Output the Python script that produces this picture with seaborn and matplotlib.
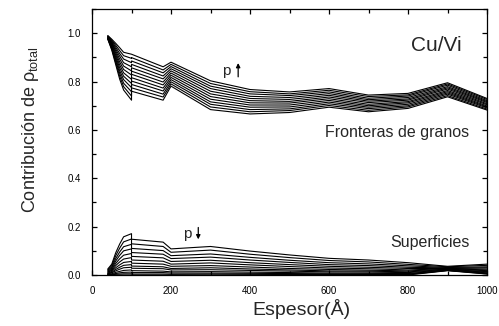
import numpy as np
import pandas as pd
import matplotlib
matplotlib.use("Agg")
import matplotlib.pyplot as plt
import seaborn as sns
from matplotlib.ticker import MultipleLocator

OUTPUT_FILE = "out.png"

# thickness points (100 appears twice: the curves jump there)
espesor = [40, 50, 60, 70, 80, 100, 100, 180, 200, 300, 400, 500, 600, 700, 800, 900, 1000]

# grain boundary contribution, lowest p (bottom curve) to highest p (top curve)
fronteras = [
    [0.975, 0.930, 0.870, 0.810, 0.765, 0.723, 0.760, 0.723, 0.781, 0.684, 0.666, 0.672, 0.694, 0.675, 0.689, 0.737, 0.682],
    [0.976, 0.934, 0.878, 0.822, 0.779, 0.740, 0.774, 0.736, 0.790, 0.695, 0.675, 0.680, 0.701, 0.681, 0.695, 0.742, 0.686],
    [0.978, 0.938, 0.886, 0.834, 0.793, 0.758, 0.788, 0.748, 0.799, 0.706, 0.684, 0.687, 0.708, 0.688, 0.700, 0.748, 0.691],
    [0.979, 0.942, 0.894, 0.845, 0.808, 0.775, 0.802, 0.761, 0.808, 0.716, 0.694, 0.695, 0.715, 0.694, 0.706, 0.753, 0.695],
    [0.980, 0.946, 0.902, 0.857, 0.822, 0.792, 0.816, 0.773, 0.817, 0.727, 0.703, 0.703, 0.722, 0.700, 0.712, 0.758, 0.699],
    [0.982, 0.950, 0.910, 0.869, 0.836, 0.809, 0.830, 0.786, 0.826, 0.738, 0.712, 0.711, 0.729, 0.706, 0.717, 0.763, 0.704],
    [0.983, 0.955, 0.918, 0.881, 0.850, 0.827, 0.843, 0.798, 0.835, 0.749, 0.721, 0.718, 0.736, 0.713, 0.723, 0.769, 0.708],
    [0.985, 0.959, 0.926, 0.893, 0.864, 0.844, 0.857, 0.811, 0.844, 0.760, 0.730, 0.726, 0.743, 0.719, 0.728, 0.774, 0.713],
    [0.986, 0.963, 0.934, 0.905, 0.878, 0.861, 0.871, 0.823, 0.853, 0.771, 0.739, 0.734, 0.750, 0.725, 0.734, 0.779, 0.717],
    [0.987, 0.967, 0.942, 0.916, 0.893, 0.878, 0.885, 0.836, 0.862, 0.781, 0.749, 0.742, 0.757, 0.731, 0.740, 0.785, 0.721],
    [0.989, 0.971, 0.950, 0.928, 0.907, 0.896, 0.899, 0.848, 0.871, 0.792, 0.758, 0.749, 0.764, 0.738, 0.745, 0.790, 0.726],
    [0.990, 0.975, 0.958, 0.940, 0.921, 0.913, 0.913, 0.861, 0.880, 0.803, 0.767, 0.757, 0.771, 0.744, 0.751, 0.795, 0.730],
]

# surface contribution, lowest p (top curve) to highest p (bottom curve)
superficies = [
    [0.025, 0.045, 0.092, 0.128, 0.158, 0.171, 0.148, 0.136, 0.108, 0.118, 0.099, 0.083, 0.069, 0.062, 0.051, 0.036, 0.045],
    [0.022, 0.039, 0.080, 0.111, 0.137, 0.149, 0.129, 0.118, 0.094, 0.103, 0.086, 0.072, 0.060, 0.054, 0.044, 0.034, 0.040],
    [0.019, 0.033, 0.068, 0.095, 0.117, 0.127, 0.110, 0.101, 0.080, 0.087, 0.073, 0.061, 0.051, 0.046, 0.038, 0.031, 0.034],
    [0.016, 0.028, 0.058, 0.081, 0.100, 0.108, 0.093, 0.086, 0.068, 0.074, 0.062, 0.052, 0.043, 0.039, 0.032, 0.029, 0.030],
    [0.013, 0.023, 0.048, 0.067, 0.082, 0.089, 0.077, 0.071, 0.056, 0.061, 0.051, 0.043, 0.036, 0.032, 0.027, 0.027, 0.025],
    [0.011, 0.019, 0.039, 0.054, 0.066, 0.072, 0.062, 0.057, 0.045, 0.050, 0.042, 0.035, 0.029, 0.026, 0.021, 0.026, 0.021],
    [0.008, 0.015, 0.030, 0.042, 0.052, 0.056, 0.049, 0.045, 0.036, 0.039, 0.033, 0.027, 0.023, 0.020, 0.017, 0.024, 0.018],
    [0.006, 0.011, 0.023, 0.032, 0.040, 0.043, 0.037, 0.034, 0.027, 0.030, 0.025, 0.021, 0.017, 0.016, 0.013, 0.023, 0.014],
    [0.005, 0.009, 0.017, 0.024, 0.030, 0.032, 0.028, 0.026, 0.021, 0.022, 0.019, 0.016, 0.013, 0.012, 0.010, 0.021, 0.012],
    [0.003, 0.005, 0.011, 0.015, 0.019, 0.021, 0.018, 0.016, 0.013, 0.014, 0.012, 0.010, 0.008, 0.007, 0.006, 0.020, 0.009],
    [0.002, 0.003, 0.006, 0.009, 0.011, 0.012, 0.010, 0.010, 0.008, 0.008, 0.007, 0.006, 0.005, 0.004, 0.004, 0.019, 0.007],
    [0.001, 0.001, 0.003, 0.004, 0.005, 0.005, 0.004, 0.004, 0.003, 0.004, 0.003, 0.002, 0.002, 0.002, 0.002, 0.019, 0.005],
    [0.000, 0.000, 0.000, 0.000, 0.000, 0.000, 0.000, 0.000, 0.000, 0.000, 0.000, 0.000, 0.000, 0.000, 0.000, 0.018, 0.004],
]


def to_long(curves, tag):
    rows = []
    for i, vals in enumerate(curves):
        for k, (x, v) in enumerate(zip(espesor, vals)):
            rows.append({"espesor": x, "valor": v, "curva": f"{tag}{i}", "orden": k})
    return pd.DataFrame(rows)


def main():
    sns.set_style("ticks")
    plt.rcParams["font.family"] = ["Liberation Sans", "DejaVu Sans"]
    plt.rcParams["mathtext.fontset"] = "custom"
    plt.rcParams["mathtext.rm"] = "Liberation Sans"
    # upright greek letters, as in the original
    plt.rcParams["mathtext.it"] = "Liberation Sans"

    df = pd.concat([to_long(fronteras, "gb"), to_long(superficies, "s")], ignore_index=True)

    fig = plt.figure(figsize=(4.99, 3.26), dpi=100)
    ax = fig.add_axes([0.1844, 0.1564, 0.7916, 0.816])

    sns.lineplot(data=df, x="espesor", y="valor", units="curva", estimator=None,
                 sort=False, color="black", linewidth=0.8, ax=ax, legend=False)

    ax.set_xlim(0, 1000)
    ax.set_ylim(0, 1.1)
    ax.xaxis.set_major_locator(MultipleLocator(200))
    ax.xaxis.set_minor_locator(MultipleLocator(100))
    ax.yaxis.set_minor_locator(MultipleLocator(0.1))
    ax.set_yticks([0.0, 0.2, 0.4, 0.6, 0.8, 1.0])
    ax.set_yticklabels(["0.0", "0.2", "0.4", "0.6", "0.8", "1.0"])
    ax.tick_params(which="both", direction="in", top=True, right=True,
                   width=0.9, labelsize=7, pad=8, colors="black")
    ax.tick_params(which="major", length=3.6)
    ax.tick_params(which="minor", length=3.0)
    for s in ax.spines.values():
        s.set_linewidth(0.9)
        s.set_color("black")

    ax.set_xlabel("Espesor(Å)", fontsize=14)
    ax.set_ylabel(r"Contribución de $\rho_{\mathrm{total}}$", fontsize=13)
    ax.xaxis.set_label_coords(0.53, -0.09)
    ax.yaxis.set_label_coords(-0.13, 0.545)

    ax.text(935, 0.95, "Cu/Vi", fontsize=15, ha="right", va="center")
    ax.text(955, 0.59, "Fronteras de granos", fontsize=11.5, ha="right", va="center")
    ax.text(955, 0.133, "Superficies", fontsize=11.5, ha="right", va="center")

    ax.text(339, 0.843, "p", fontsize=11, ha="center", va="center")
    ax.annotate("", xy=(370, 0.888), xytext=(370, 0.808),
                arrowprops=dict(arrowstyle="-|>", color="black", lw=0.9, mutation_scale=6))
    ax.text(240, 0.169, "p", fontsize=11, ha="center", va="center")
    ax.annotate("", xy=(269, 0.136), xytext=(269, 0.208),
                arrowprops=dict(arrowstyle="-|>", color="black", lw=0.9, mutation_scale=6))

    fig.savefig(OUTPUT_FILE, dpi=100)


if __name__ == "__main__":
    main()
